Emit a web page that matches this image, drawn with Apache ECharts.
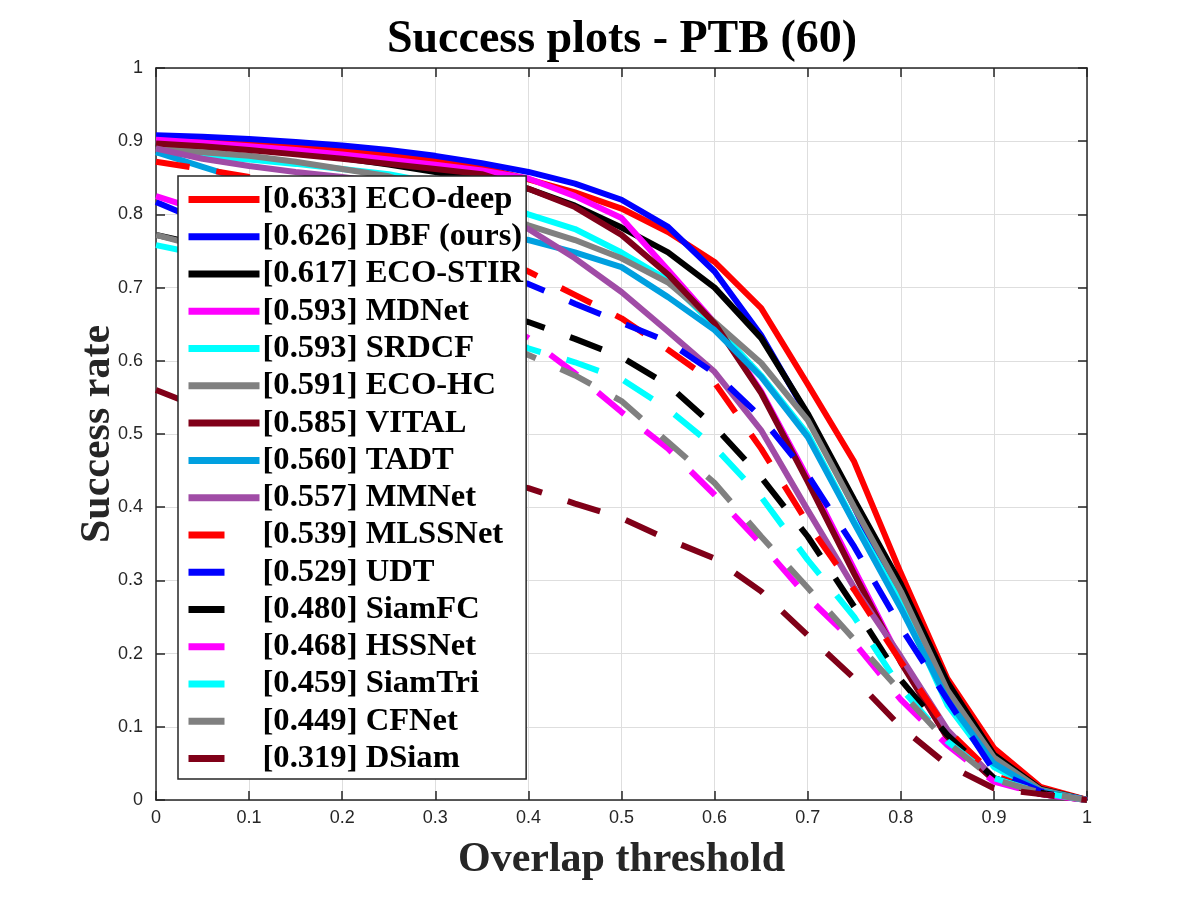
<!DOCTYPE html>
<html>
<head>
<meta charset="UTF-8">
<title>Success plots - PTB (60)</title>
<script src="https://cdn.jsdelivr.net/npm/echarts@6/dist/echarts.min.js"></script>
<style>
  html, body { margin: 0; padding: 0; background: #fff; }
  #chart { width: 1200px; height: 900px; }
</style>
</head>
<body>
<div id="chart"></div>
<script>
// overlap thresholds (x axis)
var thresholds = [0, 0.05, 0.1, 0.15, 0.2, 0.25, 0.3, 0.35, 0.4, 0.45, 0.5,
                  0.55, 0.6, 0.65, 0.7, 0.75, 0.8, 0.85, 0.9, 0.95, 1];

// legend order
var methods = ['ECO-deep', 'DBF (ours)', 'ECO-STIR', 'MDNet', 'SRDCF', 'ECO-HC', 'VITAL', 'TADT',
               'MMNet', 'MLSSNet', 'UDT', 'SiamFC', 'HSSNet', 'SiamTri', 'CFNet', 'DSiam'];
var scores = ['0.633', '0.626', '0.617', '0.593', '0.593', '0.591', '0.585', '0.560',
              '0.557', '0.539', '0.529', '0.480', '0.468', '0.459', '0.449', '0.319'];

// success rate per threshold
var ecoDeep = [0.905, 0.905, 0.900, 0.895, 0.889, 0.882, 0.874, 0.864, 0.848, 0.830, 0.808,
               0.776, 0.735, 0.672, 0.568, 0.462, 0.310, 0.166, 0.071, 0.018, 0];
var dbf     = [0.908, 0.906, 0.903, 0.899, 0.894, 0.888, 0.880, 0.870, 0.858, 0.842, 0.820,
               0.783, 0.722, 0.635, 0.525, 0.400, 0.268, 0.135, 0.050, 0.012, 0];
var ecoStir = [0.897, 0.893, 0.889, 0.884, 0.877, 0.868, 0.858, 0.847, 0.835, 0.812, 0.782,
               0.748, 0.700, 0.631, 0.528, 0.410, 0.295, 0.161, 0.062, 0.015, 0];
var mdnet   = [0.902, 0.898, 0.893, 0.888, 0.882, 0.875, 0.868, 0.860, 0.849, 0.825, 0.795,
               0.724, 0.652, 0.558, 0.440, 0.315, 0.190, 0.085, 0.028, 0.008, 0];
var srdcf   = [0.885, 0.880, 0.875, 0.869, 0.862, 0.855, 0.843, 0.823, 0.800, 0.780, 0.748,
               0.710, 0.648, 0.580, 0.500, 0.380, 0.270, 0.130, 0.045, 0.012, 0];
var ecoHc   = [0.890, 0.885, 0.880, 0.872, 0.862, 0.852, 0.833, 0.810, 0.785, 0.765, 0.740,
               0.707, 0.653, 0.597, 0.519, 0.400, 0.285, 0.150, 0.058, 0.014, 0];
var vital   = [0.897, 0.893, 0.888, 0.882, 0.876, 0.869, 0.862, 0.855, 0.835, 0.810, 0.772,
               0.718, 0.651, 0.556, 0.435, 0.309, 0.188, 0.085, 0.027, 0.008, 0];
var tadt    = [0.885, 0.865, 0.845, 0.830, 0.815, 0.800, 0.788, 0.776, 0.765, 0.748, 0.728,
               0.687, 0.642, 0.578, 0.496, 0.378, 0.262, 0.137, 0.050, 0.012, 0];
var mmnet   = [0.890, 0.876, 0.866, 0.858, 0.851, 0.843, 0.828, 0.805, 0.780, 0.740, 0.694,
               0.640, 0.585, 0.505, 0.396, 0.290, 0.196, 0.096, 0.030, 0.010, 0];
var mlssnet = [0.872, 0.862, 0.851, 0.838, 0.822, 0.803, 0.780, 0.752, 0.722, 0.690, 0.658,
               0.615, 0.570, 0.480, 0.378, 0.287, 0.189, 0.096, 0.034, 0.010, 0];
var udt     = [0.817, 0.790, 0.776, 0.766, 0.756, 0.746, 0.735, 0.722, 0.705, 0.678, 0.652,
               0.626, 0.583, 0.523, 0.444, 0.346, 0.236, 0.137, 0.040, 0.012, 0];
var siamfc  = [0.772, 0.758, 0.745, 0.733, 0.720, 0.706, 0.690, 0.672, 0.653, 0.630, 0.605,
               0.567, 0.510, 0.441, 0.360, 0.264, 0.164, 0.089, 0.030, 0.010, 0];
var hssnet  = [0.825, 0.805, 0.785, 0.765, 0.745, 0.723, 0.698, 0.667, 0.631, 0.583, 0.530,
               0.480, 0.417, 0.350, 0.277, 0.215, 0.137, 0.075, 0.025, 0.008, 0];
var siamtri = [0.758, 0.745, 0.730, 0.715, 0.700, 0.685, 0.667, 0.643, 0.617, 0.598, 0.575,
               0.534, 0.482, 0.414, 0.328, 0.250, 0.153, 0.080, 0.030, 0.010, 0];
var cfnet   = [0.772, 0.755, 0.735, 0.717, 0.700, 0.682, 0.662, 0.637, 0.608, 0.580, 0.545,
               0.489, 0.433, 0.360, 0.290, 0.219, 0.148, 0.079, 0.028, 0.010, 0];
var dsiam   = [0.560, 0.535, 0.515, 0.500, 0.485, 0.470, 0.455, 0.440, 0.426, 0.405, 0.385,
               0.356, 0.330, 0.285, 0.225, 0.166, 0.100, 0.048, 0.016, 0.008, 0];

var curves = [ecoDeep, dbf, ecoStir, mdnet, srdcf, ecoHc, vital, tadt,
              mmnet, mlssnet, udt, siamfc, hssnet, siamtri, cfnet, dsiam];

var colors = ['#ff0000', '#0000ff', '#000000', '#ff00ff', '#00ffff', '#808080', '#800018', '#00a0e0',
              '#a04ca6', '#ff0000', '#0000ff', '#000000', '#ff00ff', '#00ffff', '#808080', '#800018'];
var dashed = [false, false, false, false, false, false, false, false,
              false, true, true, true, true, true, true, true];

var axisColor = '#262626';
var serif = '"Liberation Serif", "Times New Roman", serif';

var series = [];
var legendData = [];
for (var i = 0; i < methods.length; i++) {
  var label = '[' + scores[i] + '] ' + methods[i];
  var pts = thresholds.map(function (t, k) { return [t, curves[i][k]]; });
  series.push({
    name: label,
    type: 'line',
    data: pts,
    symbol: 'none',
    animation: false,
    color: colors[i],
    lineStyle: { width: 6, color: colors[i], type: dashed[i] ? [34, 27] : 'solid', cap: 'butt' }
  });
  legendData.push({
    name: label,
    lineStyle: { width: 7, type: dashed[i] ? [36, 60] : 'solid' }
  });
}

var myChart = echarts.init(document.getElementById('chart'));
var option = {
  backgroundColor: '#fff',
  animation: false,
  title: {
    text: 'Success plots - PTB (60)',
    left: 617,
    textAlign: 'center',
    top: 12,
    textStyle: { fontFamily: serif, fontWeight: 'bold', fontSize: 46, color: '#000' }
  },
  grid: { left: 156, right: 113, top: 68, bottom: 100 },
  legend: {
    orient: 'vertical',
    left: 178,
    top: 176,
    padding: [7, 3, 4, 7],
    itemWidth: 71,
    itemHeight: 14,
    itemGap: 4.27,
    itemStyle: { opacity: 0 },
    lineStyle: { width: 7 },
    textStyle: { fontFamily: serif, fontWeight: 'bold', fontSize: 32.6, lineHeight: 33, color: '#000', padding: [0, 0, 0, -2] },
    backgroundColor: '#fff',
    borderColor: axisColor,
    borderWidth: 1.5,
    z: 10,
    data: legendData
  },
  xAxis: [{
    type: 'value',
    min: 0, max: 1, interval: 0.1,
    name: 'Overlap threshold',
    nameLocation: 'middle',
    nameGap: 39,
    nameMoveOverlap: false,
    nameTextStyle: { fontFamily: serif, fontWeight: 'bold', fontSize: 42, color: '#262626' },
    axisLine: { show: true, lineStyle: { color: axisColor, width: 1.5 } },
    axisTick: { show: true, inside: true, length: 9, lineStyle: { color: axisColor, width: 1.5 } },
    axisLabel: { margin: 9, fontFamily: '"Liberation Sans", Arial, sans-serif', fontSize: 18, color: axisColor },
    splitLine: { show: true, lineStyle: { color: '#dedede', width: 1 } }
  }, {
    type: 'value', position: 'top',
    min: 0, max: 1, interval: 0.1,
    axisLine: { show: true, onZero: false, lineStyle: { color: axisColor, width: 1.5 } },
    axisTick: { show: true, inside: true, length: 9, lineStyle: { color: axisColor, width: 1.5 } },
    axisLabel: { show: false },
    splitLine: { show: false }
  }],
  yAxis: [{
    type: 'value',
    min: 0, max: 1, interval: 0.1,
    name: 'Success rate',
    nameLocation: 'middle',
    nameGap: 37,
    nameMoveOverlap: false,
    nameTextStyle: { fontFamily: serif, fontWeight: 'bold', fontSize: 42, color: '#262626' },
    axisLine: { show: true, lineStyle: { color: axisColor, width: 1.5 } },
    axisTick: { show: true, inside: true, length: 9, lineStyle: { color: axisColor, width: 1.5 } },
    axisLabel: { margin: 13, fontFamily: '"Liberation Sans", Arial, sans-serif', fontSize: 18, color: axisColor },
    splitLine: { show: true, lineStyle: { color: '#dedede', width: 1 } }
  }, {
    type: 'value', position: 'right',
    min: 0, max: 1, interval: 0.1,
    axisLine: { show: true, onZero: false, lineStyle: { color: axisColor, width: 1.5 } },
    axisTick: { show: true, inside: true, length: 9, lineStyle: { color: axisColor, width: 1.5 } },
    axisLabel: { show: false },
    splitLine: { show: false }
  }],
  series: series
};
myChart.setOption(option);
</script>
</body>
</html>
